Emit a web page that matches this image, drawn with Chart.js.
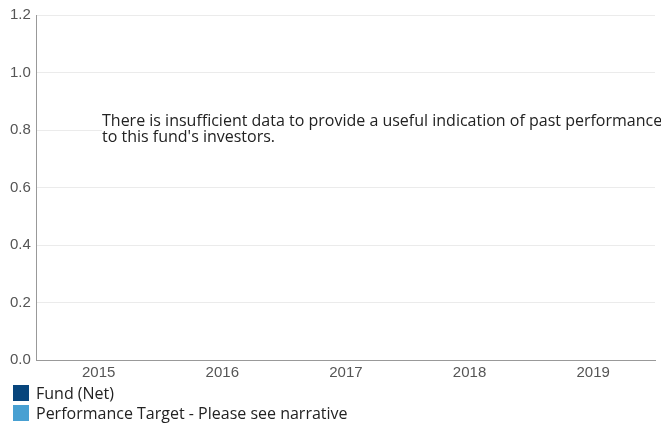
<!DOCTYPE html>
<html lang="en">
<head>
    <meta charset="UTF-8">
    <title>Past Performance</title>
    <script src="https://cdn.jsdelivr.net/npm/chart.js"></script>
    <style>
        body { margin: 0; background: #fff; }
        #wrap { position: relative; width: 661px; height: 425px; }
        #legend { position: absolute; left: 13px; top: 383px; font-family: "Open Sans", sans-serif; font-size: 16px; color: #222; }
        #legend div { display: flex; align-items: center; height: 20px; }
        #legend span.box { width: 16px; height: 16px; margin-right: 7px; display: inline-block; }
    </style>
</head>
<body>
<div id="wrap">
    <canvas id="perfChart" width="661" height="386"></canvas>
    <div id="legend"></div>
</div>
<script>
    const years = ['2015', '2016', '2017', '2018', '2019'];
    const fundNet = [null, null, null, null, null];
    const perfTarget = [null, null, null, null, null];
    const message = [
        'There is insufficient data to provide a useful indication of past performance',
        "to this fund's investors."
    ];

    // draws the "no data" note over the plot
    const notePlugin = {
        id: 'note',
        afterDraw(chart) {
            const ctx = chart.ctx;
            const x = 102, y = 113;
            ctx.save();
            ctx.fillStyle = '#fff';
            ctx.fillRect(x, y, chart.width - x, 32);
            ctx.fillStyle = '#222';
            ctx.font = '16px "Open Sans"';
            ctx.textBaseline = 'alphabetic';
            message.forEach((line, i) => ctx.fillText(line, x, y + 13 + i * 16));
            ctx.restore();
        }
    };

    const chart = new Chart(document.getElementById('perfChart'), {
        type: 'bar',
        data: {
            labels: years,
            datasets: [
                { label: 'Fund (Net)', data: fundNet, backgroundColor: '#07457c' },
                { label: 'Performance Target - Please see narrative', data: perfTarget, backgroundColor: '#48a0d2' }
            ]
        },
        options: {
            responsive: false,
            animation: false,
            layout: { padding: { left: 4, right: 6, top: 9, bottom: 0 } },
            plugins: { legend: { display: false }, tooltip: { enabled: false } },
            scales: {
                x: {
                    grid: { display: false, drawTicks: false },
                    border: { color: '#999' },
                    ticks: { color: '#555', font: { family: 'Liberation Sans', size: 15 }, padding: 4 }
                },
                y: {
                    min: 0,
                    max: 1.2,
                    grid: { color: '#ebebeb', drawTicks: false },
                    border: { color: '#999' },
                    ticks: {
                        stepSize: 0.2,
                        color: '#555',
                        padding: 6,
                        font: { family: 'Liberation Sans', size: 15 },
                        callback: v => v.toFixed(1)
                    }
                }
            }
        },
        plugins: [notePlugin]
    });

    // html legend, one item per line
    const legendEl = document.getElementById('legend');
    chart.data.datasets.forEach(ds => {
        const row = document.createElement('div');
        row.innerHTML = '<span class="box" style="background:' + ds.backgroundColor + '"></span>' + ds.label;
        legendEl.appendChild(row);
    });
</script>
</body>
</html>
